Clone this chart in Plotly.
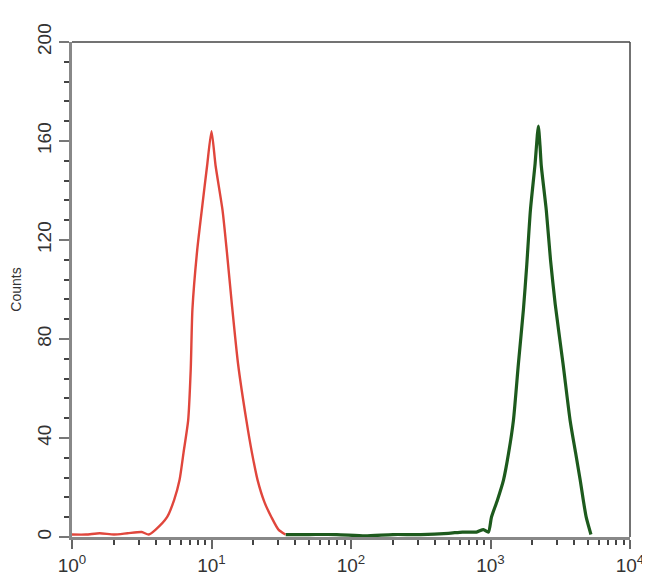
import plotly.graph_objects as go

# Red histogram (control)
red_x = [1.0, 1.26, 1.58, 2.0, 2.5, 3.16, 3.55, 3.98, 4.8, 5.4, 5.9, 6.3, 6.8, 7.1, 7.3,
         7.9, 8.6, 9.3, 10.0, 10.7, 12.0, 12.9, 14.0, 15.5, 17.8, 19.5, 21.4, 24.0, 26.9, 30.2, 33.9]
red_y = [1, 1, 1.5, 1, 1.5, 2, 1, 3, 8, 15, 23, 34, 47, 68, 92,
         116, 134, 150, 164, 150, 132, 115, 94, 70, 47, 34, 23, 14, 8, 3, 1]

# Green histogram (sample)
green_x = [34, 50, 79, 126, 200, 316, 500, 630, 794, 890, 966, 1016, 1122, 1239, 1349, 1459,
           1585, 1722, 1820, 1932, 2089, 2163, 2203, 2265, 2312, 2512, 2692, 2911, 3311, 3724,
           4074, 4395, 4624, 4853, 5248]
green_y = [1, 1, 1, 0.5, 1, 1, 1.5, 2, 2, 3, 2, 8, 15, 23, 34, 47,
           70, 92, 110, 132, 151, 162, 166, 158, 150, 132, 112, 94, 70, 47,
           34, 23, 15, 8, 1]

x_tick_vals = [1, 10, 100, 1000, 10000]
x_tick_text = ["10<sup>0</sup>", "10<sup>1</sup>", "10<sup>2</sup>", "10<sup>3</sup>", "10<sup>4</sup>"]
y_tick_vals = [0, 40, 80, 120, 160, 200]

minor_x = [m * d for d in [1, 10, 100, 1000] for m in range(2, 10)]

fig = go.Figure()
fig.add_trace(go.Scatter(x=green_x, y=green_y, mode="lines", line_shape="spline",
                         line=dict(color="#1d5a1d", width=3.2, smoothing=0.6), showlegend=False))
fig.add_trace(go.Scatter(x=red_x, y=red_y, mode="lines", line_shape="spline",
                         line=dict(color="#e0463c", width=2.4, smoothing=0.6), showlegend=False))

fig.update_layout(
    width=642, height=577,
    margin=dict(l=64, r=20, t=34, b=48, autoexpand=False),
    paper_bgcolor="white", plot_bgcolor="white",
    font=dict(family="Liberation Sans, Arial, sans-serif", color="#333"),
    showlegend=False,
)
fig.update_xaxes(
    type="log", range=[0, 4], automargin=False,
    tickvals=x_tick_vals, ticktext=x_tick_text,
    ticks="outside", ticklen=9, tickwidth=2, tickcolor="#666",
    showline=True, linecolor="#888", linewidth=3,
    showgrid=False, zeroline=False,
    tickfont=dict(size=19, color="#333"),
    minor=dict(tickvals=minor_x, ticks="outside", ticklen=5, tickwidth=2, tickcolor="#444"),
)
fig.update_yaxes(
    range=[0, 200], automargin=False,
    tickvals=y_tick_vals,
    ticks="outside", ticklen=10, tickwidth=2, tickcolor="#777",
    showline=True, linecolor="#888", linewidth=3,
    showgrid=False, zeroline=False,
    tickangle=-90,
    tickfont=dict(size=19, color="#333"),
    minor=dict(dtick=8, ticks="outside", ticklen=5, tickwidth=2, tickcolor="#444"),
    title=dict(text="Counts", font=dict(size=14, color="#333"), standoff=10),
)
# thin frame on top and right
fig.add_shape(type="line", xref="paper", yref="paper", x0=0, x1=1, y0=1, y1=1,
              line=dict(color="#444", width=1.5))
fig.add_shape(type="line", xref="paper", yref="paper", x0=1, x1=1, y0=0, y1=1,
              line=dict(color="#444", width=1.5))

fig.write_html("out.html")
